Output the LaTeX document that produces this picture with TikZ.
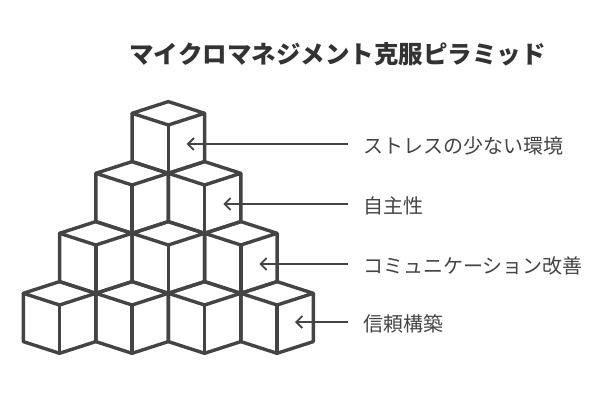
\documentclass[tikz,border=0pt]{standalone}
\usepackage{fontspec}
\newfontfamily\jpfont{Noto Sans CJK JP}
\usetikzlibrary{arrows.meta}
\definecolor{ink}{HTML}{444444}
\definecolor{headink}{HTML}{333333}
\tikzset{
  blk/.style={draw=ink,line width=3.4pt,line join=round,line cap=round},
  arr/.style={draw=ink,line width=1.8pt,-{Straight Barb[length=6pt,width=12pt,line width=1.8pt]},shorten <=15pt},
  lbl/.style={anchor=west,inner sep=0pt,text=ink,font=\jpfont\fontsize{20pt}{20pt}\selectfont}
}
\begin{document}
\begin{tikzpicture}[x=1pt,y=-1pt]
\useasboundingbox (0,0) rectangle (612,402);
\pgfmathsetmacro{\w}{36.25}
\pgfmathsetmacro{\d}{11.7}
\pgfmathsetmacro{\hh}{48.3}
% cubes, each from its left corner
\foreach \x/\y in {23.3/293.3,95.8/293.3,168.3/293.3,240.8/293.3,
  59.6/233.3,132.1/233.3,204.6/233.3,95.8/173.3,168.3/173.3,132.1/113.3}{
\draw[blk] (\x,\y)--++(\w,-\d)--++(\w,\d)--++(-\w,\d)--cycle;
\draw[blk] (\x,\y)--++(0,\hh)--++(\w,\d)--++(\w,-\d)--++(0,-\hh);
\draw[blk] (\x+\w,\y+\d)--++(0,\hh);
}
\node[font=\jpfont\bfseries\fontsize{24.5pt}{24.5pt}\selectfont,text=headink] (title) at (337.5,54) {マイクロマネジメント克服ピラミッド};
\node[lbl] (l1) at (363,146) {ストレスの少ない環境};
\node[lbl] (l2) at (363,206) {自主性};
\node[lbl] (l3) at (363,266) {コミュニケーション改善};
\node[lbl] (l4) at (363,324) {信頼構築};
\coordinate (t1) at (186.7,144);
\coordinate (t2) at (223.3,204);
\coordinate (t3) at (259.3,264);
\coordinate (t4) at (295,322);
\draw[arr] (l1.west|-t1)--(t1);
\draw[arr] (l2.west|-t2)--(t2);
\draw[arr] (l3.west|-t3)--(t3);
\draw[arr] (l4.west|-t4)--(t4);
\end{tikzpicture}
\end{document}
